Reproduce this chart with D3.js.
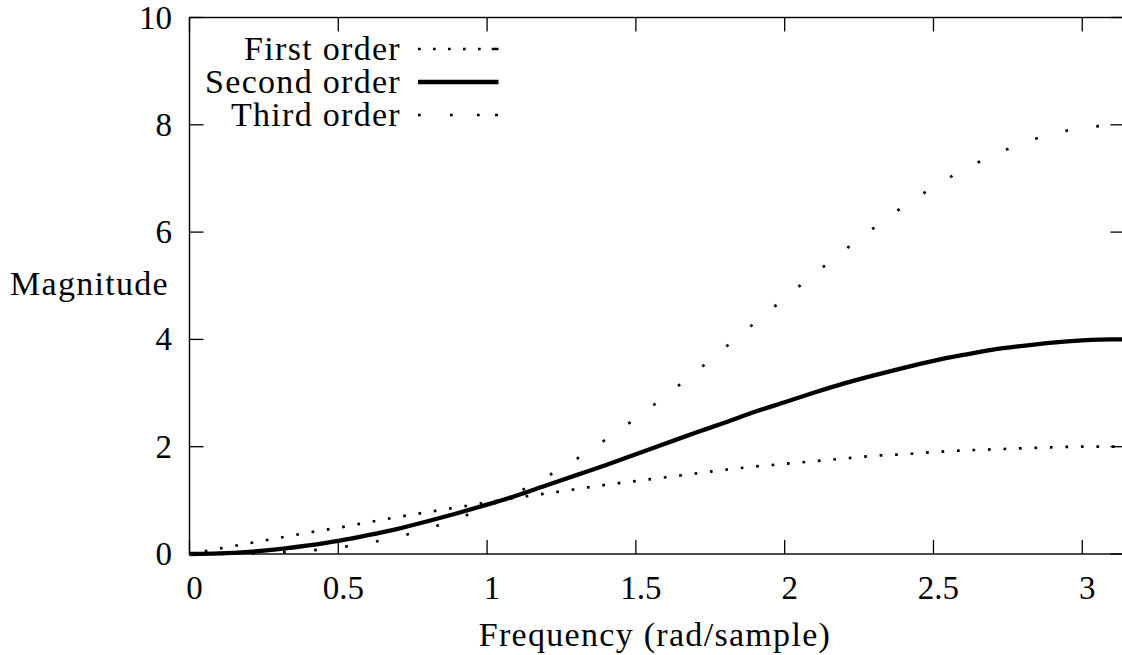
<!DOCTYPE html>
<html>
<head>
<meta charset="utf-8">
<script src="https://cdn.jsdelivr.net/npm/d3@7"></script>
<style>
  html, body { margin: 0; padding: 0; background: #fff; }
  svg { display: block; }
</style>
</head>
<body>
<svg id="chart" width="1122" height="655" font-family="Liberation Serif"></svg>
<script>
// ---- data ----
const freq = [0, 0.1, 0.2, 0.3, 0.4, 0.5, 0.6, 0.7, 0.8, 0.9, 1.0, 1.1, 1.2, 1.3, 1.4, 1.5,
              1.6, 1.7, 1.8, 1.9, 2.0, 2.1, 2.2, 2.3, 2.4, 2.5, 2.6, 2.7, 2.8, 2.9, 3.0, 3.1, 3.1416];
const firstOrder = [0, 0.10, 0.20, 0.30, 0.40, 0.49, 0.59, 0.69, 0.78, 0.87, 0.96, 1.05, 1.13, 1.21, 1.29, 1.36,
                    1.43, 1.50, 1.57, 1.63, 1.68, 1.73, 1.78, 1.83, 1.86, 1.90, 1.93, 1.95, 1.97, 1.99, 2.00, 2.00, 2.00];
const secondOrder = [0, 0.01, 0.04, 0.09, 0.16, 0.245, 0.35, 0.47, 0.61, 0.76, 0.92, 1.09, 1.28, 1.47, 1.66, 1.86,
                     2.06, 2.26, 2.45, 2.65, 2.83, 3.01, 3.18, 3.33, 3.47, 3.60, 3.71, 3.81, 3.88, 3.94, 3.98, 4.00, 4.00];
const thirdOrder = [0, 0.001, 0.008, 0.027, 0.063, 0.121, 0.206, 0.32, 0.47, 0.66, 0.88, 1.14, 1.44, 1.77, 2.14, 2.53,
                    2.95, 3.39, 3.85, 4.31, 4.77, 5.22, 5.66, 6.08, 6.48, 6.84, 7.16, 7.43, 7.66, 7.83, 7.94, 7.99, 8.00];
const xTicks = [0, 0.5, 1, 1.5, 2, 2.5, 3];
const xTickLabels = ["0", "0.5", "1", "1.5", "2", "2.5", "3"];
const yTicks = [0, 2, 4, 6, 8, 10];
const yTickLabels = ["0", "2", "4", "6", "8", "10"];
const seriesNames = ["First order", "Second order", "Third order"];
const xTitle = "Frequency (rad/sample)";
const yTitle = "Magnitude";

(function () {
// ---- layout ----
const FONT = "Liberation Serif";
const svg = d3.select("#chart");
const pLeft = 189.5, pRight = 1124.4, pTop = 17.5, pBottom = 554;
const x = d3.scaleLinear().domain([0, 3.1416]).range([pLeft, pRight]);
const y = d3.scaleLinear().domain([0, 10]).range([pBottom, pTop]);
const FS_TICK = 33, FS_TEXT = 34, LS = 1.3;
const tickLen = 14;

const series = [
  { name: seriesNames[0], values: firstOrder, width: 2.7, dash: "2.7,12.8" },
  { name: seriesNames[1], values: secondOrder, width: 4.3, dash: null },
  { name: seriesNames[2], values: thirdOrder, width: 2.7, dash: "2.7,28.5" }
];

const line = d3.line().x(d => x(d[0])).y(d => y(d[1])).curve(d3.curveMonotoneX);

svg.append("defs").append("clipPath").attr("id", "plotclip")
  .append("rect").attr("x", pLeft - 3).attr("y", pTop).attr("width", pRight - pLeft + 6).attr("height", pBottom - pTop + 3);

const gPlot = svg.append("g").attr("clip-path", "url(#plotclip)");
series.forEach(s => {
  const pts = freq.map((f, i) => [f, s.values[i]]);
  gPlot.append("path")
    .attr("d", line(pts))
    .attr("fill", "none")
    .attr("stroke", "#000")
    .attr("stroke-width", s.width)
    .attr("stroke-linecap", "butt")
    .attr("stroke-dasharray", s.dash);
});

// ---- frame & ticks ----
svg.append("rect")
  .attr("x", pLeft).attr("y", pTop)
  .attr("width", pRight - pLeft).attr("height", pBottom - pTop)
  .attr("fill", "none").attr("stroke", "#000").attr("stroke-width", 1.4);

const gAxes = svg.append("g").attr("stroke", "#000").attr("stroke-width", 1.3);
xTicks.forEach(t => {
  const px = x(t);
  gAxes.append("line").attr("x1", px).attr("x2", px).attr("y1", pBottom).attr("y2", pBottom - tickLen);
  gAxes.append("line").attr("x1", px).attr("x2", px).attr("y1", pTop).attr("y2", pTop + tickLen);
});
yTicks.forEach(t => {
  const py = y(t);
  gAxes.append("line").attr("x1", pLeft).attr("x2", pLeft + tickLen).attr("y1", py).attr("y2", py);
  gAxes.append("line").attr("x1", pRight).attr("x2", pRight - tickLen).attr("y1", py).attr("y2", py);
});

function label(xp, yp, anchor, str, fs, ls) {
  return svg.append("text")
    .attr("x", xp).attr("y", yp)
    .attr("text-anchor", anchor)
    .attr("font-family", FONT).attr("font-size", fs).attr("fill", "#000")
    .attr("letter-spacing", ls)
    .text(str);
}

// tick labels
xTicks.forEach((t, i) => label(x(t) + 5, 599, "middle", xTickLabels[i], FS_TICK, 0));
yTicks.forEach((t, i) => label(172, y(t) + 11, "end", yTickLabels[i], FS_TICK, 0));

// axis titles
label((pLeft + pRight) / 2 - 2, 646, "middle", xTitle, FS_TEXT, LS);
label(89.5, 295, "middle", yTitle, FS_TEXT, LS);

// ---- legend ----
const legY = [49, 82, 115];
const legX1 = 418, legX2 = 498.5, legTextX = 401;
const legDash = ["2.7,12.3,2.7,12.3,2.7,12.3,2.7,12.3,2.7,11,7", null, "2.7,29.3,2.7,24.3,2.7,15.3,3"];
series.forEach((s, i) => {
  label(legTextX, legY[i] + 11, "end", s.name, FS_TEXT, LS);
  svg.append("line")
    .attr("x1", legX1).attr("x2", legX2)
    .attr("y1", legY[i]).attr("y2", legY[i])
    .attr("stroke", "#000")
    .attr("stroke-width", s.width)
    .attr("stroke-dasharray", legDash[i]);
});
})();
</script>
</body>
</html>
